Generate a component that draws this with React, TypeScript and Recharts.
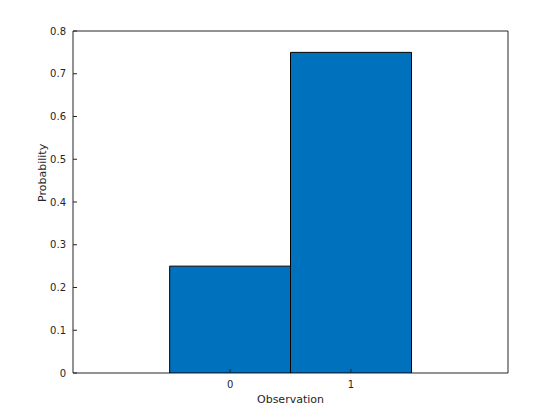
import React from "react";
import {
  ComposedChart,
  Bar,
  Line,
  XAxis,
  YAxis,
  ReferenceArea,
} from "recharts";

// histogram: observations 0 and 1, bin width 1
const observations = [0, 1];
const probabilities = [0.25, 0.75];
const xTicks = [0, 1];
const yTicks = [0, 0.1, 0.2, 0.3, 0.4, 0.5, 0.6, 0.7, 0.8];
const xLimits = [-1.3, 2.3];
const yLimits = [0, 0.8];

const dados = observations.map((obs, i) => ({
  obs,
  prob: probabilities[i],
}));

const AXIS_COLOR = "#262626";
const FONT = "DejaVu Sans, sans-serif";
const TICK_LEN = 4;

// MATLAB-style ticks: short line pointing into the plot, label outside
function BottomTick(props: any) {
  const { x, y, payload } = props;
  const y0 = y - 2;
  return (
    <g>
      <line x1={x} y1={y0} x2={x} y2={y0 - TICK_LEN} stroke={AXIS_COLOR} strokeWidth={1} />
      <text x={x} y={y0 + 15} textAnchor="middle" fontSize={10} fill={AXIS_COLOR}>
        {payload.value}
      </text>
    </g>
  );
}

function TopTick(props: any) {
  const { x, y } = props;
  const y0 = y + 2;
  return <line x1={x} y1={y0} x2={x} y2={y0 + TICK_LEN} stroke={AXIS_COLOR} strokeWidth={1} />;
}

function LeftTick(props: any) {
  const { x, y, payload } = props;
  const x0 = x + 2;
  return (
    <g>
      <line x1={x0} y1={y} x2={x0 + TICK_LEN} y2={y} stroke={AXIS_COLOR} strokeWidth={1} />
      <text x={x0 - 7} y={y + 3.5} textAnchor="end" fontSize={10} fill={AXIS_COLOR}>
        {String(payload.value)}
      </text>
    </g>
  );
}

function RightTick(props: any) {
  const { x, y } = props;
  const x0 = x - 2;
  return <line x1={x0} y1={y} x2={x0 - TICK_LEN} y2={y} stroke={AXIS_COLOR} strokeWidth={1} />;
}

export default function App() {
  return (
    <div style={{ position: "absolute", left: 0, top: 0, background: "#fff" }}>
      <ComposedChart
        width={560}
        height={420}
        data={dados}
        margin={{ top: 31, right: 52, left: 0, bottom: 0 }}
        barCategoryGap={0}
        barGap={0}
        style={{ fontFamily: FONT }}
      >
        <XAxis
          xAxisId="bottom"
          dataKey="obs"
          type="number"
          domain={xLimits}
          ticks={xTicks}
          allowDataOverflow
          height={47}
          tickSize={0}
          tickLine={false}
          axisLine={false}
          tick={<BottomTick />}
          label={{ value: "Observation", position: "insideBottom", offset: 17, fontSize: 11, fill: AXIS_COLOR }}
        />
        <XAxis
          xAxisId="top"
          orientation="top"
          dataKey="obs"
          type="number"
          domain={xLimits}
          ticks={xTicks}
          allowDataOverflow
          height={0}
          tickSize={0}
          tickLine={false}
          axisLine={false}
          tick={<TopTick />}
        />
        <YAxis
          yAxisId="left"
          type="number"
          domain={yLimits}
          ticks={yTicks}
          allowDataOverflow
          width={73}
          tickSize={0}
          tickLine={false}
          axisLine={false}
          tick={<LeftTick />}
          label={{ value: "Probability", angle: -90, position: "insideLeft", offset: 42, fontSize: 11, fill: AXIS_COLOR }}
        />
        <YAxis
          yAxisId="right"
          orientation="right"
          type="number"
          domain={yLimits}
          ticks={yTicks}
          allowDataOverflow
          width={0}
          tickSize={0}
          tickLine={false}
          axisLine={false}
          tick={<RightTick />}
        />
        <Bar
          xAxisId="bottom"
          yAxisId="left"
          dataKey="prob"
          fill="#0072BD"
          stroke="#000"
          strokeWidth={1}
          isAnimationActive={false}
        />
        {/* invisible series so the top/right box axes are drawn */}
        <Line
          xAxisId="top"
          yAxisId="right"
          dataKey="prob"
          stroke="none"
          dot={false}
          activeDot={false}
          isAnimationActive={false}
        />
        {/* axes box */}
        <ReferenceArea
          xAxisId="bottom"
          yAxisId="left"
          x1={xLimits[0]}
          x2={xLimits[1]}
          y1={yLimits[0]}
          y2={yLimits[1]}
          fill="none"
          fillOpacity={0}
          stroke={AXIS_COLOR}
          strokeWidth={1}
          ifOverflow="visible"
        />
      </ComposedChart>
    </div>
  );
}
